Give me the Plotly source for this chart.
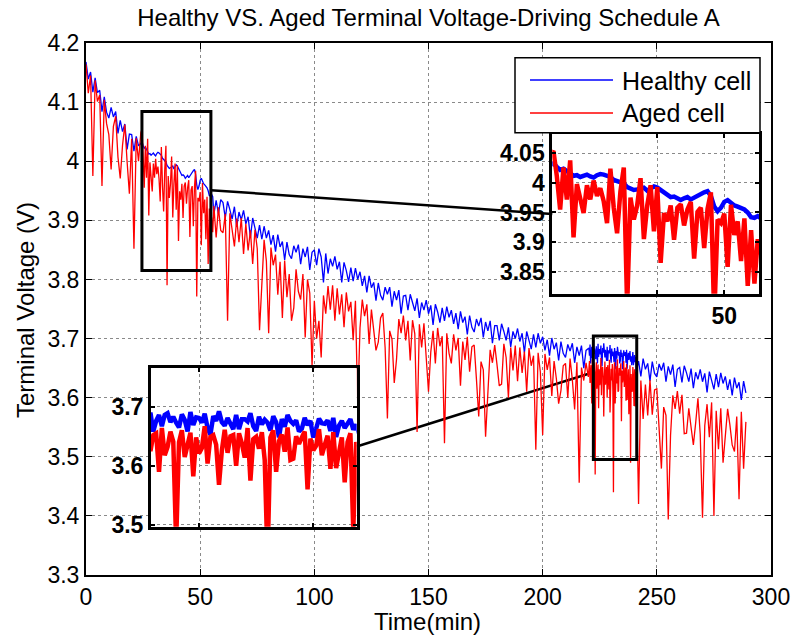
import plotly.graph_objects as go

# ---------------- data (terminal voltage in mV) ----------------
t_coarse = list(range(290))  # minutes, 1-min samples

healthy_mv = [
    4168, 4139, 4151, 4117, 4141, 4116, 4120, 4084, 4109, 4083,
    4073, 4091, 4075, 4084, 4047, 4069, 4050, 4063, 4020, 4046,
    4045, 4017, 4042, 4026, 4030, 4027, 4024, 4016, 4013, 4012,
    4011, 4013, 4014, 4010, 4003, 3999, 3990, 3989, 3992, 3991,
    3992, 3984, 3976, 3975, 3974, 3972, 3980, 3984, 3978, 3952,
    3968, 3966, 3960, 3955, 3942, 3944, 3910, 3934, 3911, 3935,
    3930, 3904, 3932, 3918, 3902, 3923, 3889, 3914, 3901, 3917,
    3894, 3906, 3871, 3904, 3889, 3870, 3892, 3868, 3890, 3870,
    3883, 3859, 3875, 3847, 3876, 3855, 3864, 3833, 3863, 3842,
    3835, 3857, 3846, 3859, 3826, 3852, 3838, 3855, 3816, 3846,
    3850, 3824, 3852, 3838, 3795, 3844, 3810, 3835, 3822, 3839,
    3817, 3830, 3795, 3829, 3815, 3796, 3820, 3797, 3819, 3800,
    3813, 3789, 3806, 3778, 3806, 3786, 3795, 3764, 3794, 3773,
    3765, 3787, 3775, 3787, 3754, 3780, 3765, 3782, 3742, 3772,
    3773, 3748, 3775, 3762, 3747, 3768, 3735, 3761, 3748, 3765,
    3742, 3756, 3723, 3758, 3745, 3727, 3752, 3730, 3754, 3736,
    3748, 3725, 3743, 3716, 3746, 3727, 3737, 3707, 3739, 3719,
    3711, 3733, 3721, 3735, 3702, 3728, 3713, 3730, 3692, 3722,
    3722, 3697, 3725, 3712, 3697, 3719, 3686, 3712, 3700, 3717,
    3695, 3709, 3676, 3712, 3699, 3682, 3707, 3685, 3709, 3692,
    3703, 3680, 3698, 3671, 3701, 3682, 3693, 3663, 3695, 3675,
    3668, 3690, 3679, 3692, 3659, 3686, 3671, 3688, 3650, 3680,
    3683, 3658, 3686, 3673, 3658, 3681, 3653, 3674, 3662, 3679,
    3659, 3673, 3648, 3676, 3663, 3648, 3671, 3649, 3673, 3655,
    3666, 3644, 3662, 3636, 3666, 3648, 3658, 3628, 3661, 3641,
    3635, 3657, 3646, 3659, 3627, 3653, 3639, 3656, 3618, 3648,
    3651, 3626, 3654, 3642, 3627, 3649, 3616, 3643, 3631, 3648,
    3627, 3641, 3609, 3644, 3631, 3614, 3640, 3618, 3642, 3624,
    3636, 3613, 3631, 3604, 3634, 3616, 3626, 3596, 3628, 3608,
]

aged_mv = [
    4164, 4115, 4145, 3975, 4137, 4101, 4112, 3958, 4104, 4064,
    4045, 3986, 4059, 4076, 4007, 3971, 4027, 4062, 3999, 3945,
    4038, 3852, 4039, 4000, 4048, 4012, 4026, 4038, 3998, 3949,
    3972, 3978, 3969, 4024, 3915, 4026, 3975, 3962, 3905, 3996,
    3993, 3949, 3962, 3958, 3928, 3968, 3951, 3890, 3984, 3938,
    3948, 3963, 3935, 3940, 3920, 3905, 3924, 3871, 3922, 3883,
    3879, 3911, 3730, 3912, 3888, 3856, 3903, 3863, 3904, 3843,
    3894, 3849, 3883, 3826, 3884, 3852, 3714, 3800, 3867, 3831,
    3709, 3854, 3824, 3842, 3774, 3830, 3735, 3832, 3770, 3809,
    3730, 3752, 3817, 3780, 3766, 3809, 3702, 3800, 3777, 3654,
    3764, 3700, 3730, 3668, 3773, 3742, 3789, 3749, 3790, 3730,
    3785, 3741, 3775, 3719, 3778, 3746, 3762, 3697, 3764, 3585,
    3718, 3766, 3738, 3758, 3691, 3749, 3717, 3680, 3694, 3735,
    3743, 3685, 3565, 3713, 3699, 3625, 3665, 3733, 3709, 3739,
    3697, 3730, 3663, 3731, 3708, 3542, 3724, 3685, 3726, 3666,
    3610, 3677, 3713, 3658, 3718, 3687, 3704, 3523, 3709, 3675,
    3658, 3707, 3680, 3701, 3620, 3695, 3664, 3703, 3644, 3686,
    3689, 3631, 3568, 3661, 3647, 3534, 3613, 3681, 3659, 3689,
    3656, 3620, 3623, 3691, 3668, 3600, 3685, 3646, 3688, 3628,
    3685, 3642, 3678, 3610, 3684, 3654, 3671, 3512, 3676, 3643,
    3537, 3674, 3647, 3668, 3603, 3662, 3632, 3590, 3612, 3654,
    3658, 3600, 3666, 3630, 3580, 3660, 3456, 3651, 3629, 3659,
    3635, 3652, 3618, 3470, 3638, 3621, 3649, 3626, 3652, 3614,
    3649, 3440, 3642, 3610, 3648, 3626, 3635, 3596, 3640, 3614,
    3586, 3635, 3420, 3629, 3564, 3622, 3570, 3630, 3571, 3613,
    3615, 3556, 3480, 3584, 3570, 3394, 3536, 3604, 3581, 3611,
    3573, 3605, 3539, 3540, 3582, 3550, 3520, 3557, 3599, 3538,
    3397, 3553, 3589, 3533, 3592, 3400, 3578, 3513, 3582, 3490,
    3533, 3581, 3554, 3520, 3509, 3568, 3428, 3576, 3480, 3559,
]

# extra half-minute samples inside the first zoom window (24.5 ... 55.5 min)
t_top_extra = [m + 0.5 for m in range(24, 56)]
healthy_top_extra_mv = [
    4033, 4022, 4019, 4012, 4010, 4014, 4009, 4015, 4012, 4005,
    4001, 3993, 3988, 3990, 3987, 3994, 3988, 3979, 3977, 3971,
    3976, 3975, 3983, 3986, 3960, 3958, 3971, 3962, 3958, 3950,
    3941, 3940,
]
aged_top_extra_mv = [
    4054, 3955, 3972, 3908, 3975, 3996, 4004, 3991, 3932, 3958,
    3986, 3790, 3938, 4008, 3962, 3918, 3865, 3935, 3904, 3964,
    3955, 3872, 3958, 3956, 3771, 3932, 3858, 3912, 3868, 3826,
    3830, 3880,
]

# extra quarter-minute samples inside the second zoom window (220.25 ... 240.75 min)
t_bot_extra = [m + q for m in range(220, 241) for q in (0.25, 0.5, 0.75)]
healthy_bot_extra_mv = [
    3684, 3671, 3690, 3676, 3686, 3667, 3689, 3674, 3683, 3665,
    3687, 3678, 3691, 3669, 3682, 3673, 3688, 3664, 3684, 3676,
    3692, 3668, 3681, 3673, 3686, 3662, 3679, 3675, 3689, 3667,
    3683, 3670, 3678, 3660, 3684, 3674, 3679, 3666, 3686, 3671,
    3677, 3658, 3681, 3669, 3676, 3663, 3680, 3672, 3677, 3659,
    3681, 3668, 3676, 3664, 3679, 3661, 3670, 3667, 3677, 3655,
    3672, 3660, 3669,
]
aged_bot_extra_mv = [
    3648, 3662, 3625, 3655, 3590, 3664, 3632, 3658, 3641, 3640,
    3660, 3615, 3656, 3582, 3648, 3630, 3667, 3604, 3652, 3636,
    3568, 3661, 3622, 3650, 3600, 3655, 3638, 3664, 3575, 3645,
    3629, 3657, 3610, 3648, 3660, 3590, 3653, 3624, 3665, 3612,
    3650, 3637, 3658, 3560, 3646, 3634, 3662, 3618, 3651, 3595,
    3657, 3626, 3648, 3572, 3655, 3490, 3640, 3610, 3652, 3630,
    3648, 3585, 3644,
]

# zoom windows (min, V)
TOP_WIN_X = [24.5, 54.7]
TOP_WIN_Y = [3.815, 4.084]
BOT_WIN_X = [222.2, 241.2]
BOT_WIN_Y = [3.4956, 3.7042]

X_RANGE = [0, 300]
Y_RANGE = [3.3, 4.2]
x_ticks = [0, 50, 100, 150, 200, 250, 300]
y_ticks = [3.3, 3.4, 3.5, 3.6, 3.7, 3.8, 3.9, 4.0, 4.1, 4.2]
y_tick_text = ["3.3", "3.4", "3.5", "3.6", "3.7", "3.8", "3.9", "4", "4.1", "4.2"]

top_inset_xrange = [24.33, 55.18]
top_inset_yrange = [3.8128, 4.0826]
top_inset_yticks = [3.85, 3.9, 3.95, 4.0, 4.05]
top_inset_ytext = ["3.85", "3.9", "3.95", "4", "4.05"]
top_inset_xticks = [40, 50]
top_inset_xtext = ["", "50"]

bot_inset_xrange = [220.8, 238.8]
bot_inset_yrange = [3.497, 3.765]
bot_inset_yticks = [3.5, 3.6, 3.7]
bot_inset_ytext = ["3.5", "3.6", "3.7"]
bot_inset_xticks = [225, 235]

# ---------------- combine samples ----------------
pairs_h = list(zip(t_coarse, healthy_mv)) + list(zip(t_top_extra, healthy_top_extra_mv)) + list(zip(t_bot_extra, healthy_bot_extra_mv))
pairs_a = list(zip(t_coarse, aged_mv)) + list(zip(t_top_extra, aged_top_extra_mv)) + list(zip(t_bot_extra, aged_bot_extra_mv))
pairs_h.sort()
pairs_a.sort()
t_h = [p[0] for p in pairs_h]
v_h = [p[1] / 1000.0 for p in pairs_h]
t_a = [p[0] for p in pairs_a]
v_a = [p[1] / 1000.0 for p in pairs_a]

BLUE = "#0000ff"
RED = "#ff0000"
FONT = "Arial, Liberation Sans, sans-serif"
GRID = "#8a8a8a"

fig = go.Figure()
for xa, ya, w in (("x", "y", 1.3), ("x2", "y2", 4.5), ("x3", "y3", 4.5)):
    fig.add_trace(go.Scatter(x=t_h, y=v_h, mode="lines", line=dict(color=BLUE, width=w),
                             xaxis=xa, yaxis=ya, name="Healthy cell", showlegend=False))
    fig.add_trace(go.Scatter(x=t_a, y=v_a, mode="lines", line=dict(color=RED, width=w),
                             xaxis=xa, yaxis=ya, name="Aged cell", showlegend=False))

main_axis = dict(showline=True, linecolor="black", linewidth=2, mirror="ticks",
                 ticks="inside", ticklen=6, tickcolor="black", tickwidth=1,
                 showgrid=True, gridcolor=GRID, griddash="dot", gridwidth=1,
                 zeroline=False, automargin=False,
                 tickfont=dict(family=FONT, size=23, color="black"))
inset_axis = dict(showline=True, linecolor="black", linewidth=3, mirror="ticks",
                  ticks="inside", ticklen=4, tickcolor="black", tickwidth=2,
                  showgrid=True, gridcolor=GRID, griddash="dot", gridwidth=1,
                  zeroline=False, automargin=False,
                  tickfont=dict(family=FONT, size=23, color="black", weight="bold"))

# domains from pixel layout
L, R, T, B = 86, 30, 43, 65
W = 801 - L - R
H = 640 - T - B
def dx(px):
    return (px - L) / W
def dy(py):
    return (640 - B - py) / H

top_dom_x = [dx(552.3), dx(759)]
top_dom_y = [dy(293.7), dy(134)]
bot_dom_x = [dx(151), dx(356.7)]
bot_dom_y = [dy(526.7), dy(368.3)]

fig.update_layout(
    width=801, height=640,
    margin=dict(l=L, r=R, t=T, b=B, autoexpand=False),
    paper_bgcolor="white", plot_bgcolor="white",
    showlegend=False,
    font=dict(family=FONT, color="black"),
    title=dict(text="Healthy VS. Aged Terminal Voltage-Driving Schedule A",
               x=0.5, xref="paper", xanchor="center", y=0.972, yref="container", yanchor="middle",
               font=dict(family=FONT, size=24, color="black")),
    xaxis=dict(main_axis, domain=[0, 1], range=X_RANGE, tickvals=x_ticks, anchor="y"),
    yaxis=dict(main_axis, domain=[0, 1], range=Y_RANGE, tickvals=y_ticks, ticktext=y_tick_text, anchor="x"),
    xaxis2=dict(inset_axis, domain=top_dom_x, range=top_inset_xrange, tickvals=top_inset_xticks,
                ticktext=top_inset_xtext, anchor="y2"),
    yaxis2=dict(inset_axis, domain=top_dom_y, range=top_inset_yrange, tickvals=top_inset_yticks,
                ticktext=top_inset_ytext, anchor="x2"),
    xaxis3=dict(inset_axis, domain=bot_dom_x, range=bot_inset_xrange, tickvals=bot_inset_xticks,
                showticklabels=False, anchor="y3"),
    yaxis3=dict(inset_axis, domain=bot_dom_y, range=bot_inset_yrange, tickvals=bot_inset_yticks,
                ticktext=bot_inset_ytext, anchor="x3"),
)

def main_x(paper_x):
    return X_RANGE[0] + paper_x * (X_RANGE[1] - X_RANGE[0])
def main_y(paper_y):
    return Y_RANGE[0] + paper_y * (Y_RANGE[1] - Y_RANGE[0])
def inset_to_paper_y(v, rng, dom):
    return dom[0] + (v - rng[0]) / (rng[1] - rng[0]) * (dom[1] - dom[0])

shapes = []
for wx, wy in ((TOP_WIN_X, TOP_WIN_Y), (BOT_WIN_X, BOT_WIN_Y)):
    shapes.append(dict(type="rect", xref="x", yref="y", x0=wx[0], x1=wx[1], y0=wy[0], y1=wy[1],
                       line=dict(color="black", width=3), layer="above"))
shapes.append(dict(type="line", xref="x", yref="y",
                   x0=TOP_WIN_X[1], y0=3.951,
                   x1=main_x(top_dom_x[0]), y1=main_y(inset_to_paper_y(3.9475, top_inset_yrange, top_dom_y)),
                   line=dict(color="black", width=2.5), layer="above"))
shapes.append(dict(type="line", xref="x", yref="y",
                   x0=main_x(bot_dom_x[1]), y0=main_y(inset_to_paper_y(3.6326, bot_inset_yrange, bot_dom_y)),
                   x1=BOT_WIN_X[0], y1=3.643,
                   line=dict(color="black", width=2.5), layer="between"))
shapes.append(dict(type="rect", xref="paper", yref="paper", x0=dx(515), x1=dx(760), y0=dy(132.7), y1=dy(57.7),
                   fillcolor="white", line=dict(color="black", width=1.5), layer="above"))
shapes.append(dict(type="line", xref="paper", yref="paper", x0=dx(530), x1=dx(613), y0=dy(80), y1=dy(80),
                   line=dict(color=BLUE, width=1.5), layer="above"))
shapes.append(dict(type="line", xref="paper", yref="paper", x0=dx(530), x1=dx(613), y0=dy(113), y1=dy(113),
                   line=dict(color=RED, width=1.5), layer="above"))

annotations = [
    dict(text="Healthy cell", xref="paper", yref="paper", x=dx(620), y=dy(81), xanchor="left", yanchor="middle",
         showarrow=False, font=dict(family=FONT, size=25, color="black")),
    dict(text="Aged cell", xref="paper", yref="paper", x=dx(620), y=dy(113), xanchor="left", yanchor="middle",
         showarrow=False, font=dict(family=FONT, size=25, color="black")),
    dict(text="Time(min)", xref="paper", yref="paper", x=dx(427), y=dy(621), xanchor="center", yanchor="middle",
         showarrow=False, font=dict(family=FONT, size=24, color="black")),
    dict(text="Terminal Voltage (V)", xref="paper", yref="paper", x=dx(25), y=dy(310), xanchor="center",
         yanchor="middle", textangle=-90, showarrow=False, font=dict(family=FONT, size=24, color="black")),
]
fig.update_layout(shapes=shapes, annotations=annotations)

fig.write_html("out.html", config={"displayModeBar": False},
               post_script="document.body.style.margin='0px';document.body.style.overflow='hidden';")
